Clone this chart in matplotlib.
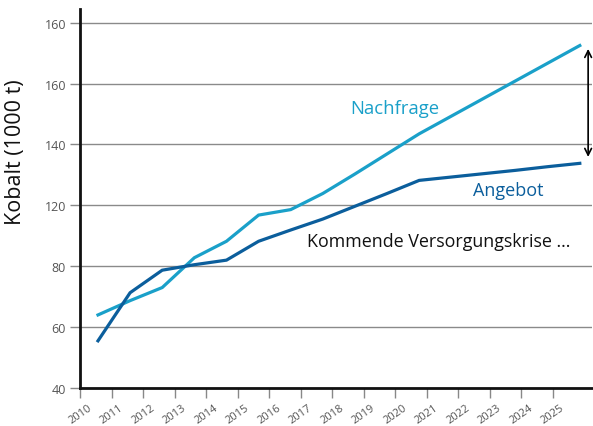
import matplotlib as mpl
import matplotlib.pyplot as plt
import matplotlib.transforms as mtransforms
import numpy as np

mpl.rcParams.update({
    'font.family': ['Open Sans', 'DejaVu Sans'],
})

# data (1000 t)
years = np.arange(2010, 2026)
nachfrage = [64.0, 68.7, 73.0, 82.8, 88.2, 96.8, 98.6, 103.9, 110.3, 116.9,
             123.5, 129.3, 135.1, 140.9, 146.7, 152.5]
angebot = [55.5, 71.3, 78.7, 80.5, 82.0, 88.2, 91.9, 95.5, 99.7, 103.9,
           108.2, 109.3, 110.4, 111.5, 112.7, 113.8]
tick_labels = [str(y) for y in years]
y_ticks = [40, 60, 80, 100, 120, 140, 160]
y_tick_labels = ['40', '60', '80', '120', '140', '160', '160']

c_nach = '#1aa0c9'
c_ang = '#0b5e9c'

f = plt.figure(figsize=(5.93, 4.27), dpi=100)
ax = f.add_axes([80 / 593, 38 / 427, 512 / 593, 379 / 427])

ax.plot(years, nachfrage, color=c_nach, lw=2.3, solid_joinstyle='miter', zorder=3)
ax.plot(years, angebot, color=c_ang, lw=2.3, solid_joinstyle='miter', zorder=3)

# the tick grid is slightly offset from the data points in the original
x_ticks = 2009.44 + np.arange(len(years)) * 0.9807
ax.set_xticks(x_ticks)
ax.set_xticklabels(tick_labels, rotation=35, ha='center', va='top',
                   fontsize=8, color='#555555')
shift = mtransforms.ScaledTranslation(6 / 100, 3 / 100, f.dpi_scale_trans)
for lbl in ax.get_xticklabels():
    lbl.set_transform(lbl.get_transform() + shift)
ax.set_xlim(2009.44, 2025.38)

ax.set_yticks(y_ticks)
ax.set_yticklabels(y_tick_labels, fontsize=9, color='#555555')
ax.set_ylim(40, 164.5)
ax.yaxis.grid(True, color='#8a8a8a', lw=1)
ax.set_axisbelow(True)

ax.tick_params(axis='both', length=7, width=1, color='#888888', direction='out', pad=3)
for s in ['top', 'right']:
    ax.spines[s].set_visible(False)
for s in ['left', 'bottom']:
    ax.spines[s].set_linewidth(2)
    ax.spines[s].set_color('#111111')

f.text(16 / 593, 1 - 152 / 427, 'Kobalt (1000 t)', fontsize=15.5, color='#111111',
       rotation=90, ha='center', va='center')

ax.text(2019.25, 132.0, 'Nachfrage', color=c_nach, fontsize=13.3, ha='center', va='center')
ax.text(2022.76, 105.0, 'Angebot', color=c_ang, fontsize=13, ha='center', va='center')
ax.text(2020.62, 88.4, 'Kommende Versorgungskrise ...', color='#111111', fontsize=12.9,
        ha='center', va='center')

ax.annotate('', xy=(2025.26, 151.4), xytext=(2025.26, 115.9),
            arrowprops=dict(arrowstyle='<->', color='black', lw=1.2,
                            mutation_scale=12, shrinkA=0, shrinkB=0))

f.savefig('out.png', dpi=100)
